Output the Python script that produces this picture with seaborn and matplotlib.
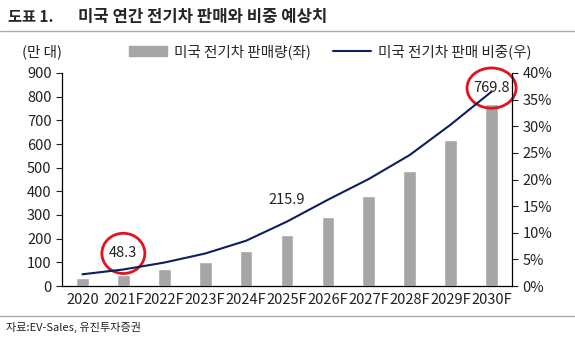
import numpy as np
import pandas as pd
import seaborn as sns
from matplotlib import pyplot as plt
from matplotlib.patches import Ellipse, Patch
from matplotlib.lines import Line2D

years = ["2020", "2021F", "2022F", "2023F", "2024F", "2025F",
         "2026F", "2027F", "2028F", "2029F", "2030F"]
sales = [32.5, 48.3, 70.5, 103, 149, 215.9, 292, 379, 484, 616, 769.8]
share = [2.2, 3.1, 4.4, 6.1, 8.5, 12.1, 16.2, 20.1, 24.6, 30.3, 36.5]
labelled = ["2021F", "2025F", "2030F"]
circled = ["2021F", "2030F"]

sns.set_style("white")
plt.rcParams['font.family'] = ['Noto Sans CJK KR', 'DejaVu Sans']

df = pd.DataFrame({"year": years, "sales": sales, "share": share})
df["pos"] = np.arange(len(df))

fig = plt.figure(figsize=(5.75, 3.56), dpi=100)
ax = fig.add_axes([62 / 575, 1 - 286 / 356, 450 / 575, 213 / 356])

sns.barplot(data=df, x="year", y="sales", color="#a6a6a6", width=0.31,
            saturation=1, ax=ax)
ax.set_ylim(0, 900)
ax.set_yticks(range(0, 901, 100))
ax.set_xlim(-0.5, len(years) - 0.5)
ax.set_xlabel("")
ax.set_ylabel("")

ax2 = ax.twinx()
sns.lineplot(data=df, x="pos", y="share", color="#0d1f5c", linewidth=1.5, ax=ax2)
ax2.set_ylim(0, 40)
ax2.set_yticks(range(0, 41, 5))
ax2.set_yticklabels([f"{v}%" for v in range(0, 41, 5)])
ax2.set_ylabel("")
ax2.set_xlim(-0.5, len(years) - 0.5)

for a in (ax, ax2):
    for s in a.spines.values():
        s.set_visible(False)
    a.tick_params(labelsize=10.5, colors="#222222", length=4, width=0.8)
ax.spines["left"].set_visible(True)
ax.spines["bottom"].set_visible(True)
ax2.spines["right"].set_visible(True)
for sp in (ax.spines["left"], ax.spines["bottom"], ax2.spines["right"]):
    sp.set_color("black")
    sp.set_linewidth(0.9)

ax.tick_params(axis="x", length=0, pad=5)
ax.set_xticks(np.arange(len(years)))
ax.set_xticklabels(years)
ax.set_xticks(np.arange(-0.5, len(years), 1), minor=True)
ax.tick_params(axis="x", which="minor", length=5, width=0.8, color="black")
ax2.tick_params(axis="x", which="both", length=0, labelbottom=False)

# value labels (y offsets above the line, in data units)
offsets = {"2021F": 68, "2025F": 92, "2030F": 15}
for yr in labelled:
    i = years.index(yr)
    v = sales[i]
    ypos = max(v, share[i] / 40 * 900) + offsets[yr]
    ax.text(i, ypos, f"{v}", ha="center", va="center", fontsize=10.5,
            color="#222222", zorder=5)
    if yr in circled:
        w = 1.05 if yr == "2021F" else 1.2
        ax.add_patch(Ellipse((i, ypos), w, 170, fill=False,
                             edgecolor="#e0141e", linewidth=2, zorder=6,
                             clip_on=False))

# legend
handles = [Patch(color="#a6a6a6"),
           Line2D([0], [0], color="#0d1f5c", linewidth=1.5)]
fig.legend(handles, ["미국 전기차 판매량(좌)", "미국 전기차 판매 비중(우)"],
           loc="center", bbox_to_anchor=(0.575, 1 - 52 / 356), ncol=2,
           frameon=False, fontsize=10.5, handlelength=2.6, columnspacing=1.5,
           handletextpad=0.5)

fig.text(22 / 575, 1 - 52 / 356, "(만 대)", fontsize=10.5, va="center",
         color="#222222")

# title block
fig.text(8 / 575, 1 - 17 / 356, "도표 1.", fontsize=11, fontweight="bold",
         va="center")
fig.text(78 / 575, 1 - 17 / 356, "미국 연간 전기차 판매와 비중 예상치", fontsize=12,
         fontweight="bold", va="center")
fig.add_artist(Line2D([0, 1], [1 - 31 / 356] * 2, color="#aaaaaa",
                      linewidth=1))
fig.add_artist(Line2D([0, 1], [1 - 316 / 356] * 2, color="#aaaaaa",
                      linewidth=1))
fig.text(6 / 575, 1 - 327 / 356, "자료:EV-Sales, 유진투자증권", fontsize=8,
         va="center", color="#222222")

fig.savefig("out.png", dpi=100)
